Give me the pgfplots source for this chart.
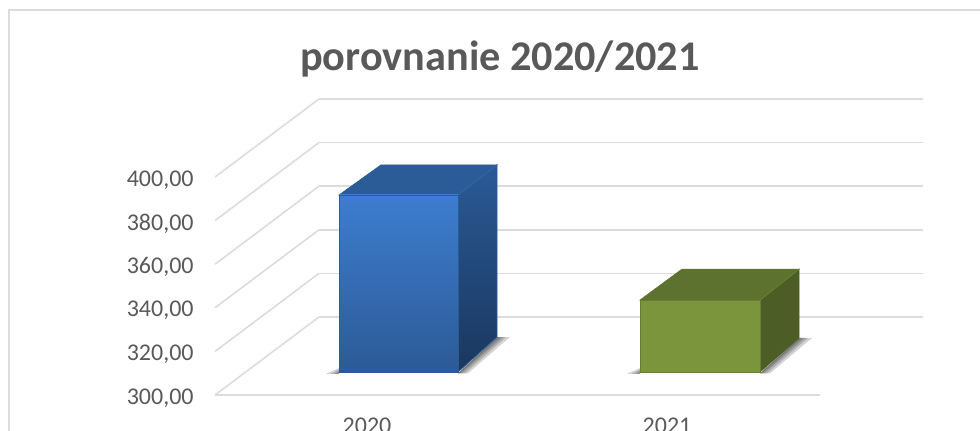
\documentclass[border=0pt]{standalone}
\usepackage{pgfplots}
\pgfplotsset{compat=1.18}
\usepackage{fontspec}
\setmainfont{Carlito}
\definecolor{gridc}{HTML}{DCDCDC}
\definecolor{txt}{HTML}{595959}
\definecolor{bfa}{HTML}{3D7DCF}
\definecolor{bfb}{HTML}{2C5A96}
\definecolor{bsa}{HTML}{2A5A96}
\definecolor{bsb}{HTML}{1A375F}
\definecolor{bt}{HTML}{2B5C98}
\definecolor{gf}{HTML}{7A953C}
\definecolor{gs}{HTML}{4C5E25}
\definecolor{gt}{HTML}{5C722E}
\begin{document}
\begin{tikzpicture}
\path[use as bounding box] (0,0) rectangle (735pt,322.5pt);
\clip (0,0) rectangle (735pt,322.5pt);
\draw[gridc,line width=1.5pt] (6.75pt,-2pt) -- (6.75pt,315pt) -- (737pt,315pt);
\begin{axis}[
  at={(161.25pt,26.25pt)},anchor=south west,
  scale only axis,width=531pt,height=222.75pt,
  xmin=215,xmax=923,ymin=300,ymax=436.24,
  clip=false,
  axis line style={draw=none},
  tick style={draw=none},
  xtick pos=left,ytick pos=left,
  xtick={367,667},xticklabels={2020,2021},
  ytick={300,320,340,360,380,400},
  xticklabel style={anchor=center,yshift=-23.3pt,text=txt,font=\fontsize{18}{20}\selectfont},
  yticklabel style={xshift=-12.5pt,yshift=-2.2pt,text=txt,font=\fontsize{18}{20}\selectfont,
    /pgf/number format/.cd,fixed,fixed zerofill,precision=2,use comma,assume math mode=true},
  every axis title shift=0pt,
  title={\bfseries porovnanie 2020/2021},
  title style={at={(0.4025,1.131)},anchor=center,text=txt,font=\fontsize{31.7}{34}\selectfont},
  gridl/.style={gridc,line width=1.2pt,no markers,forget plot},
  sh/.style={draw=none,fill=black,fill opacity=0.17,yshift=17.25pt,forget plot},
]
% front floor line and wall grid lines
\addplot[gridl] coordinates {(215,300)(820,300)};
\addplot[gridl,yshift=58.5pt] coordinates {(319,300)(923,300)};
\addplot[gridl,yshift=58.5pt] coordinates {(319,320)(923,320)};
\addplot[gridl,yshift=58.5pt] coordinates {(319,340)(923,340)};
\addplot[gridl,yshift=58.5pt] coordinates {(319,360)(923,360)};
\addplot[gridl,yshift=58.5pt] coordinates {(319,380)(923,380)};
\addplot[gridl,yshift=58.5pt] coordinates {(319,400)(923,400)};
\addplot[gridl] coordinates {(215,300)(319,335.8)};
\addplot[gridl] coordinates {(215,320)(319,355.8)};
\addplot[gridl] coordinates {(215,340)(319,375.8)};
\addplot[gridl] coordinates {(215,360)(319,395.8)};
\addplot[gridl] coordinates {(215,380)(319,415.8)};
\addplot[gridl] coordinates {(215,400)(319,435.8)};
% bar 2020: shadow
\addplot[sh] coordinates {(335,299.2)(339,299.2)(339,300.6)} --cycle;
\addplot[sh] coordinates {(331,299.2)(339,299.2)(339,301.2)} --cycle;
\addplot[sh] coordinates {(326,299.2)(339,299.2)(339,301.8)} --cycle;
\addplot[sh] coordinates {(458,299.4)(497,316.05)(500,316.05)(460,299.4)} --cycle;
\addplot[sh] coordinates {(458,299.4)(497,316.05)(503,316.05)(462,299.4)} --cycle;
\addplot[sh] coordinates {(458,299.4)(497,316.05)(506,316.05)(465,299.4)} --cycle;
\addplot[sh] coordinates {(458,299.4)(497,316.05)(510,316.05)(468,299.4)} --cycle;
\addplot[draw=black!30,line width=1pt,yshift=16.7pt,forget plot] coordinates {(339,300)(458,300)};
% bar 2020: faces
\addplot[draw=bsa,line width=0.5pt,top color=bsa,bottom color=bsb,yshift=17.25pt,forget plot] coordinates {(458,300)(458,381.2)(497,395)(497,316.05)} --cycle;
\addplot[draw=bt,line width=0.5pt,fill=bt,yshift=17.25pt,forget plot] coordinates {(339,381.2)(458,381.2)(497,395)(381,395)} --cycle;
\addplot[draw=bfb,line width=0.6pt,top color=bfa,bottom color=bfb,yshift=17.25pt,forget plot] coordinates {(339,300)(339,381.2)(458,381.2)(458,300)} --cycle;
\addplot[draw=bt!75!bfa,line width=0.8pt,yshift=17.25pt,forget plot] coordinates {(458,381.2)(497,395)};
% bar 2021: shadow
\addplot[sh] coordinates {(636,299.2)(640,299.2)(640,300.6)} --cycle;
\addplot[sh] coordinates {(632,299.2)(640,299.2)(640,301.2)} --cycle;
\addplot[sh] coordinates {(627,299.2)(640,299.2)(640,301.8)} --cycle;
\addplot[sh] coordinates {(760,299.4)(799,315.6)(802,315.6)(762,299.4)} --cycle;
\addplot[sh] coordinates {(760,299.4)(799,315.6)(805,315.6)(764,299.4)} --cycle;
\addplot[sh] coordinates {(760,299.4)(799,315.6)(808,315.6)(767,299.4)} --cycle;
\addplot[sh] coordinates {(760,299.4)(799,315.6)(812,315.6)(770,299.4)} --cycle;
\addplot[draw=black!30,line width=1pt,yshift=16.7pt,forget plot] coordinates {(640,300)(760,300)};
% bar 2021: faces
\addplot[draw=gs,line width=0.5pt,fill=gs,yshift=17.25pt,forget plot] coordinates {(760,300)(760,333)(799,347.2)(799,315.6)} --cycle;
\addplot[draw=gt,line width=0.5pt,fill=gt,yshift=17.25pt,forget plot] coordinates {(640,333)(760,333)(799,347.2)(682,347.2)} --cycle;
\addplot[draw=gf!85!black,line width=0.6pt,fill=gf,yshift=17.25pt,forget plot] coordinates {(640,300)(640,333)(760,333)(760,300)} --cycle;
\addplot[draw=gt!70!gf,line width=0.8pt,yshift=17.25pt,forget plot] coordinates {(760,333)(799,347.2)};
\end{axis}
\end{tikzpicture}
\end{document}
